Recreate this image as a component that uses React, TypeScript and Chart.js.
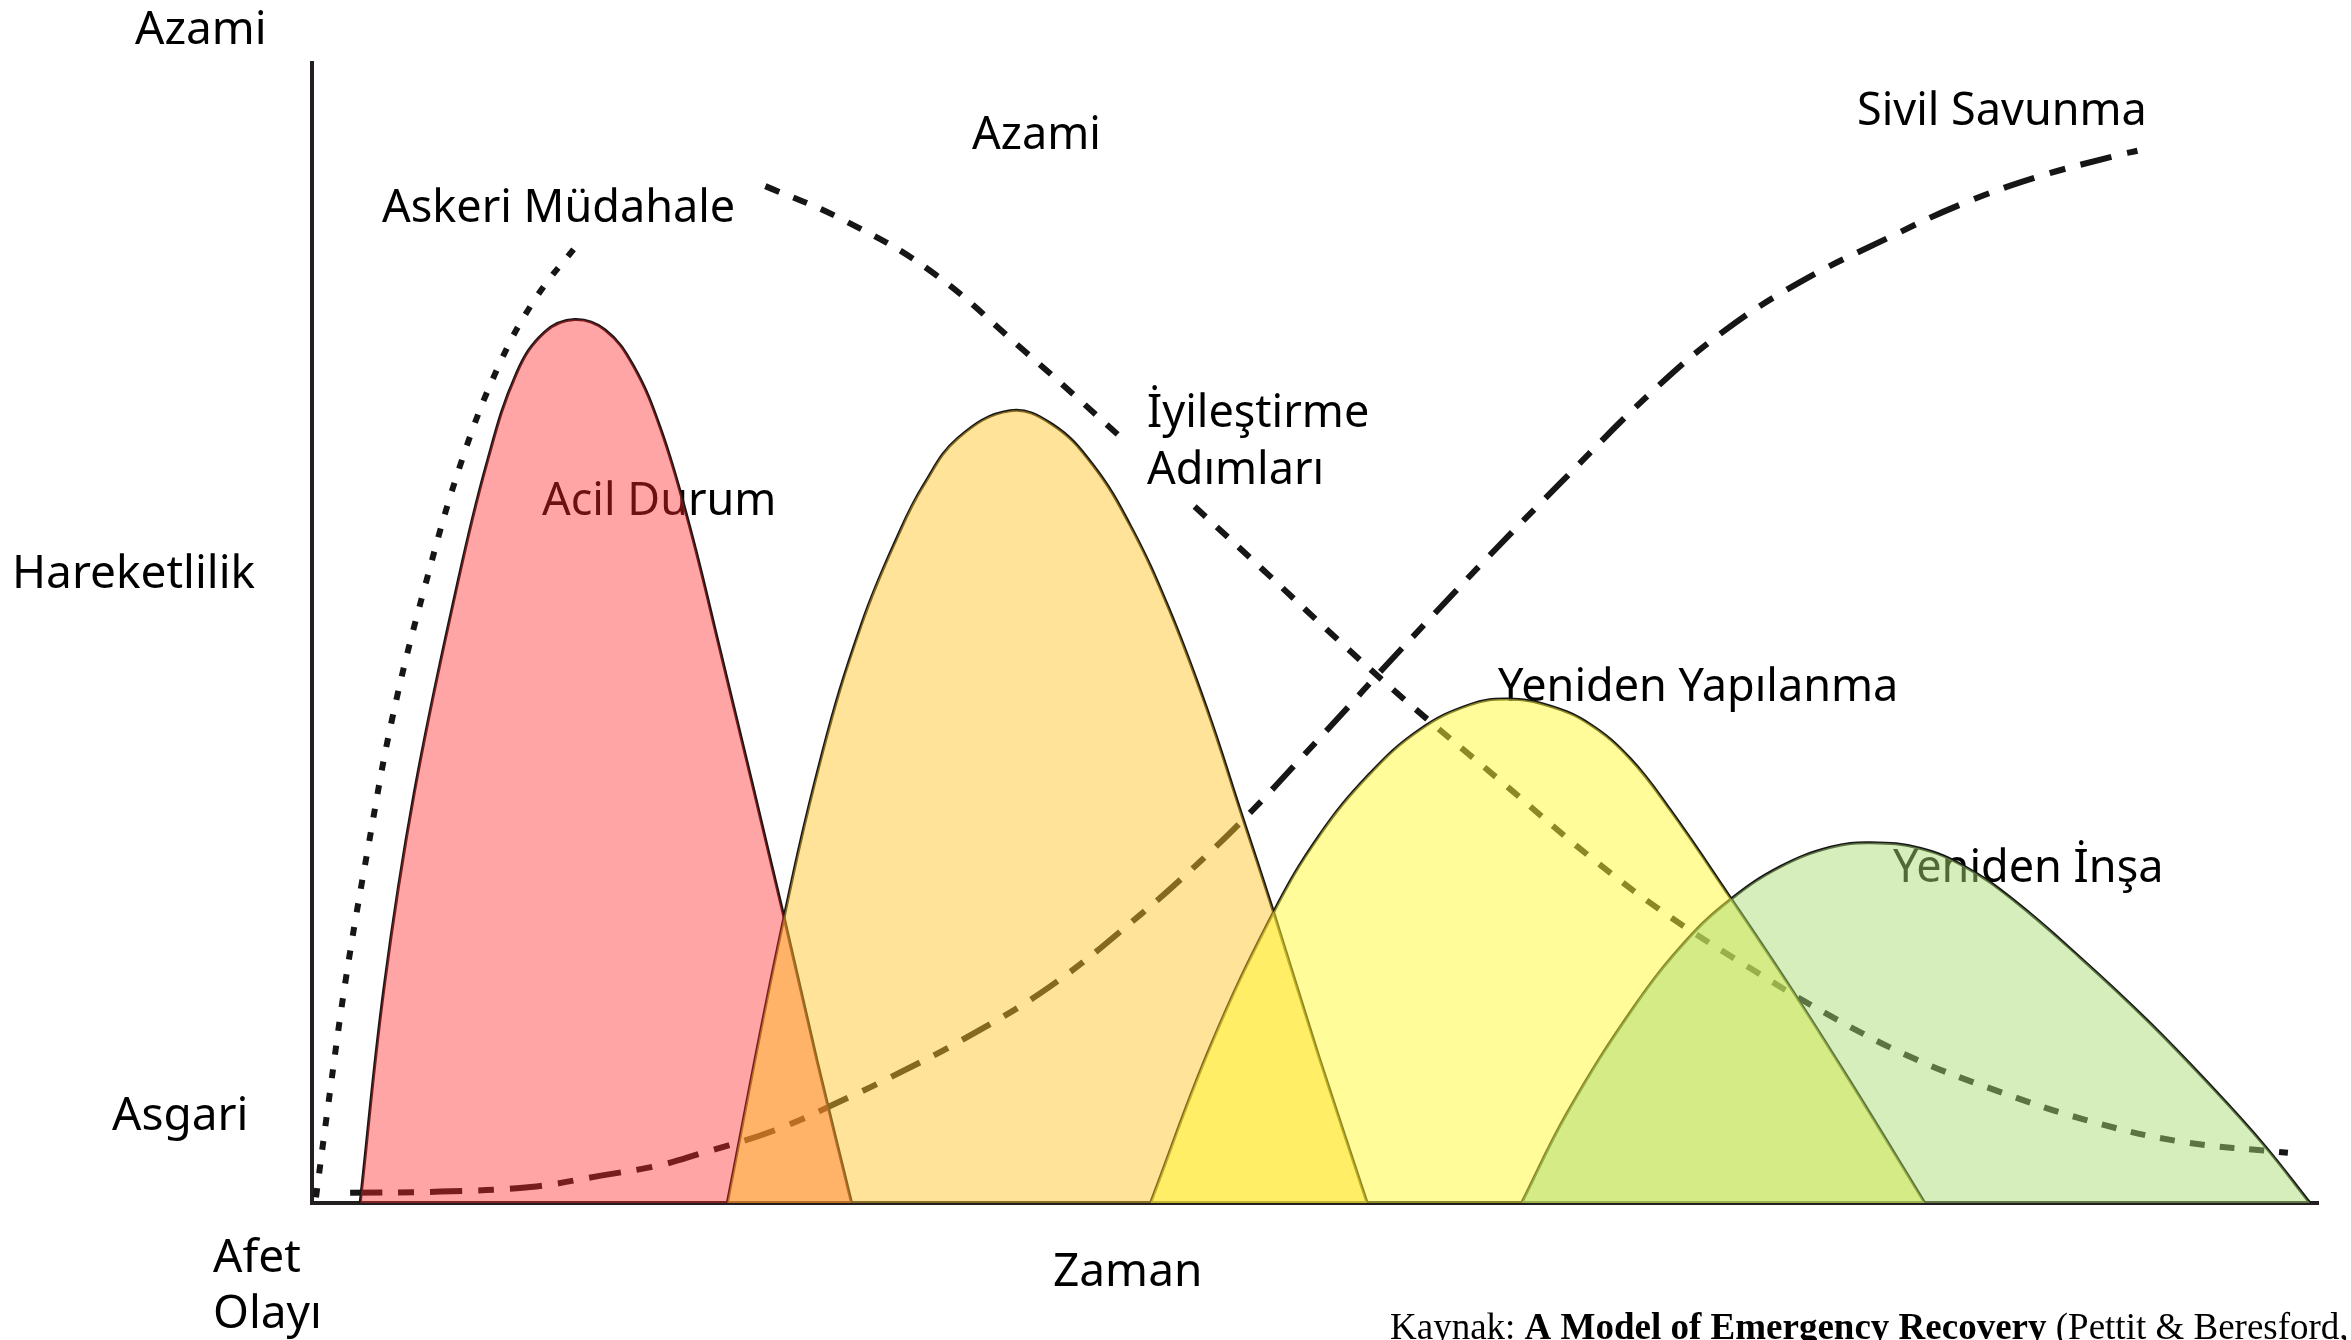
import React, { useEffect, useRef } from "react";
import { Chart, registerables } from "chart.js";

Chart.register(...registerables);

const WIDTH = 2351;
const HEIGHT = 1340;

// ---------- data: time (x, 0–100) and mobility (y, 0–100) ----------
// Acil Durum (emergency) hump
const acilDurumX = [2.4, 3.6, 5.1, 7.2, 8.7, 10.2, 11.6, 13.1, 14.6, 16.0, 17.4, 18.8, 20.3, 23.5, 25.2, 26.9];
const acilDurumY = [0, 19.0, 36.0, 53.9, 64.8, 72.8, 76.4, 77.5, 76.6, 73.5, 67.8, 59.5, 48.8, 25.3, 12.3, 0];

// İyileştirme Adımları (recovery steps) hump
const iyilestirmeX = [20.7, 23.2, 25.4, 27.4, 29.3, 30.5, 32.2, 34.8, 36.9, 38.9, 40.8, 42.7, 44.6, 46.3, 47.9, 50.2, 52.6];
const iyilestirmeY = [0, 22.3, 39.2, 50.8, 58.9, 63.0, 67.1, 69.5, 68.3, 64.8, 59.4, 52.2, 43.4, 34.3, 25.7, 12.8, 0];

// Yeniden Yapılanma (restructuring) hump
const yapilanmaX = [41.8, 44.8, 47.9, 50.2, 52.7, 55.2, 57.7, 59.6, 61.7, 63.7, 65.7, 67.7, 70.7, 73.7, 76.7, 80.4];
const yapilanmaY = [0, 13.8, 25.4, 32.2, 37.6, 41.5, 43.7, 44.2, 43.6, 42.0, 39.0, 34.5, 26.8, 18.9, 10.6, 0];

// Yeniden İnşa (rebuilding) hump
const insaX = [60.3, 62.6, 65.9, 68.5, 70.7, 73.2, 75.7, 77.7, 80.2, 82.4, 84.8, 88.1, 91.5, 94.8, 97.3, 99.6];
const insaY = [0, 8.0, 17.2, 23.0, 26.6, 29.5, 31.2, 31.6, 31.1, 29.5, 26.6, 21.6, 16.0, 10.0, 5.1, 0];

// Askeri Müdahale (military intervention) dashed curve
const askeriX = [0.2, 0.8, 1.7, 2.8, 4.0, 5.6, 7.5, 9.4, 11.2, 13.2];
const askeriY = [0.5, 8.5, 19.8, 31.2, 42.5, 53.9, 65.3, 73.8, 79.5, 84.0];

// Azami -> decline dashed curve (gap behind the "İyileştirme Adımları" label)
const azamiX = [22.6, 26.3, 30.8, 35.6, 38.1, 40.3, 42.0, 44.0, 47.5, 50.9, 54.5, 59.2, 63.9, 67.7, 71.6, 75.6, 79.7, 83.9, 88.4, 93.1, 98.5];
const azamiY = [89.2, 86.4, 81.8, 74.6, 70.7, 67.2, null, 61.1, 55.4, 49.8, 44.1, 37.1, 30.1, 25.1, 20.7, 16.5, 12.8, 9.9, 7.3, 5.4, 4.4];

// Sivil Savunma (civil defence) dashed curve
const sivilX = [1.9, 6.4, 10.9, 14.4, 17.3, 19.3, 23.1, 26.8, 28.8, 32.3, 36.8, 41.3, 44.3, 46.8, 49.4, 51.6, 53.2, 55.8, 58.7, 62.2, 66.7, 70.4, 74.2, 78.5, 82.2, 86.0, 90.0, 91.0];
const sivilY = [0.9, 1.0, 1.4, 2.4, 3.3, 4.3, 6.4, 9.3, 11.0, 14.2, 19.0, 25.3, 30.0, 34.3, 39.2, 43.4, 46.5, 51.4, 56.8, 63.1, 71.0, 76.5, 80.8, 84.6, 87.6, 90.0, 91.9, 92.3];

// ---------- texts ----------
const axisTexts = ["Azami", "Hareketlilik", "Asgari", "Afet", "Olayı", "Zaman"];
const phaseTexts = ["Azami", "Askeri Müdahale", "Sivil Savunma", "İyileştirme", "Adımları", "Acil Durum", "Yeniden Yapılanma", "Yeniden İnşa"];
const captionParts = ["Kaynak: ", "A Model of Emergency Recovery", " (Pettit & Beresford, 2005)"];

// ---------- layout (pixels, baselines) ----------
const axisTextPos = [
  [135, 44],
  [12, 588],
  [112, 1130],
  [213, 1272],
  [213, 1328],
  [1053, 1286],
];
const phaseTextPos = [
  [972, 149],
  [382, 222],
  [1857, 125],
  [1147, 427],
  [1147, 484],
  [542, 515],
  [1498, 701],
  [1893, 882],
];

const SANS = '"Noto Sans", "DejaVu Sans", sans-serif';
const SERIF = '"Liberation Serif", "Times New Roman", serif';

const zip = (xs: number[], ys: (number | null)[]) => xs.map((x, i) => ({ x, y: ys[i] }));

const textPlugin = {
  id: "phaseTexts",
  beforeDatasetsDraw(chart: any) {
    const ctx = chart.ctx as CanvasRenderingContext2D;
    ctx.save();
    ctx.fillStyle = "#000";
    ctx.textAlign = "left";
    ctx.textBaseline = "alphabetic";
    ctx.font = `46px ${SANS}`;
    axisTexts.forEach((t, i) => ctx.fillText(t, axisTextPos[i][0], axisTextPos[i][1]));
    ctx.font = `45px ${SANS}`;
    phaseTexts.forEach((t, i) => ctx.fillText(t, phaseTextPos[i][0], phaseTextPos[i][1]));

    // source caption
    let x = 1390;
    const y = 1339;
    const fonts = [`37px ${SERIF}`, `bold 37px ${SERIF}`, `37px ${SERIF}`];
    captionParts.forEach((p, i) => {
      ctx.font = fonts[i];
      ctx.fillText(p, x, y);
      x += ctx.measureText(p).width;
    });
    ctx.restore();
  },
};

const LINE = "#161616";
const TENSION = 0.4;

const outline = (data: any[]) => ({
  data,
  borderColor: LINE,
  borderWidth: 3,
  pointRadius: 0,
  fill: false,
  tension: TENSION,
  order: 10,
});

const dashed = (data: any[], width: number, dash: number[]) => ({
  data,
  borderColor: LINE,
  borderWidth: width,
  borderDash: dash,
  pointRadius: 0,
  fill: false,
  spanGaps: false,
  tension: TENSION,
  order: 10,
});

const area = (data: any[], color: string, order: number) => ({
  data,
  borderWidth: 0,
  borderColor: "rgba(0,0,0,0)",
  backgroundColor: color,
  pointRadius: 0,
  fill: "origin",
  tension: TENSION,
  order,
});

export default function App() {
  const canvasRef = useRef<HTMLCanvasElement | null>(null);

  useEffect(() => {
    const canvas = canvasRef.current;
    if (!canvas) return;

    const acil = zip(acilDurumX, acilDurumY);
    const iyi = zip(iyilestirmeX, iyilestirmeY);
    const yap = zip(yapilanmaX, yapilanmaY);
    const ins = zip(insaX, insaY);

    const axisCommon = {
      type: "linear" as const,
      min: 0,
      max: 100,
      ticks: { display: false },
      grid: { display: false, drawTicks: false },
      border: { display: true, color: "#231f20", width: 4 },
    };

    const chart = new Chart(canvas, {
      type: "line",
      data: {
        datasets: [
          // outlines and dashed curves (drawn first, tinted by the fills above)
          outline(acil),
          outline(iyi),
          outline(yap),
          outline(ins),
          dashed(zip(askeriX, askeriY), 6, [9, 15]),
          dashed(zip(azamiX, azamiY), 6, [15, 15]),
          dashed(zip(sivilX, sivilY), 6, [32, 16, 16, 16]),
          // translucent fills
          area(acil, "rgba(255, 40, 40, 0.42)", 4),
          area(iyi, "rgba(254, 196, 42, 0.48)", 3),
          area(yap, "rgba(255, 250, 52, 0.5)", 2),
          area(ins, "rgba(167, 219, 115, 0.48)", 1),
        ] as any,
      },
      options: {
        responsive: false,
        maintainAspectRatio: false,
        animation: false,
        devicePixelRatio: 1,
        layout: { padding: { left: 312, top: 63, right: 33, bottom: 137 } },
        plugins: { legend: { display: false }, tooltip: { enabled: false } },
        scales: {
          x: axisCommon,
          y: axisCommon,
        },
      } as any,
      plugins: [textPlugin],
    });

    return () => chart.destroy();
  }, []);

  return (
    <div style={{ position: "absolute", left: 0, top: 0, width: WIDTH, height: HEIGHT, background: "#fff" }}>
      <canvas ref={canvasRef} width={WIDTH} height={HEIGHT} style={{ display: "block" }} />
    </div>
  );
}
